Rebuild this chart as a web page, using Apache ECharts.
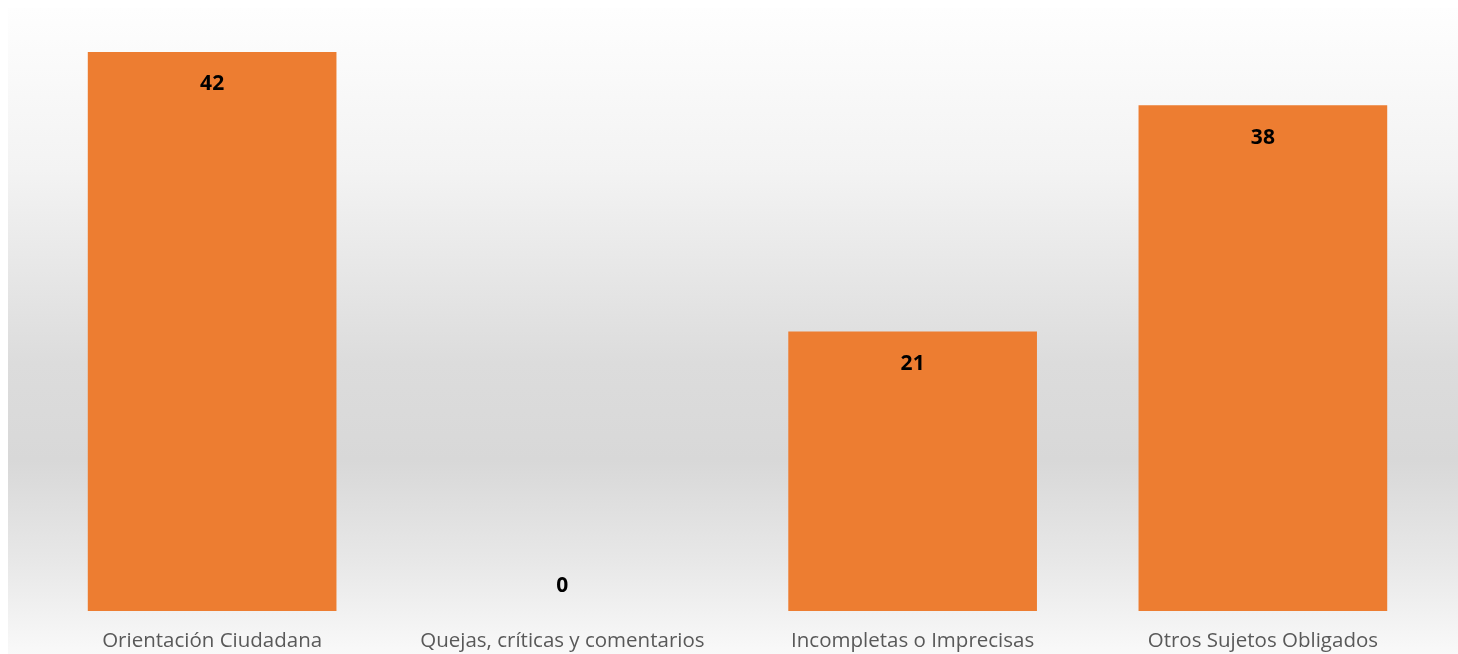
<!DOCTYPE html>
<html>
<head>
<meta charset="utf-8">
<script src="https://cdn.jsdelivr.net/npm/echarts@6/dist/echarts.min.js"></script>
<style>
  html, body { margin: 0; padding: 0; background: #fff; }
  #chart { width: 1458px; height: 654px; }
</style>
</head>
<body>
<div id="chart"></div>
<script>
// categorías y valores
const categories = ['Orientación Ciudadana', 'Quejas, críticas y comentarios', 'Incompletas o Imprecisas', 'Otros Sujetos Obligados']
const values = [42, 0, 21, 38]

const chart = echarts.init(document.getElementById('chart'))

// el 0 se dibuja encima de la base, los demás dentro de la barra
const seriesData = values.map(function (v) {
  if (v === 0) {
    return { value: v, label: { position: 'top', distance: 14 } }
  }
  return v
})

chart.setOption({
  animation: false,
  graphic: [
    {
      type: 'rect',
      z: -10,
      shape: { x: 8, y: 8, width: 1450, height: 646 },
      style: {
        fill: new echarts.graphic.LinearGradient(0, 0, 0, 1, [
          { offset: 0, color: '#fefefe' },
          { offset: 0.25, color: '#f3f3f3' },
          { offset: 0.55, color: '#dcdcdc' },
          { offset: 0.7, color: '#d8d8d8' },
          { offset: 0.86, color: '#e8e8e8' },
          { offset: 1, color: '#f9f9f9' }
        ])
      }
    }
  ],
  grid: { left: 37, right: 20, top: 52, bottom: 43 },
  xAxis: {
    type: 'category',
    data: categories,
    axisLine: { show: false },
    axisTick: { show: false },
    axisLabel: {
      color: '#595959',
      fontFamily: 'Open Sans',
      fontSize: 20.5,
      margin: 20,
      interval: 0
    }
  },
  yAxis: {
    type: 'value',
    min: 0,
    max: 42,
    show: false,
    splitLine: { show: false }
  },
  series: [
    {
      type: 'bar',
      data: seriesData,
      barWidth: '71%',
      itemStyle: { color: '#ED7D31' },
      label: {
        show: true,
        position: 'insideTop',
        distance: 22,
        color: '#000',
        fontFamily: 'Open Sans',
        fontWeight: 'bold',
        fontSize: 21
      }
    }
  ]
})
</script>
</body>
</html>
